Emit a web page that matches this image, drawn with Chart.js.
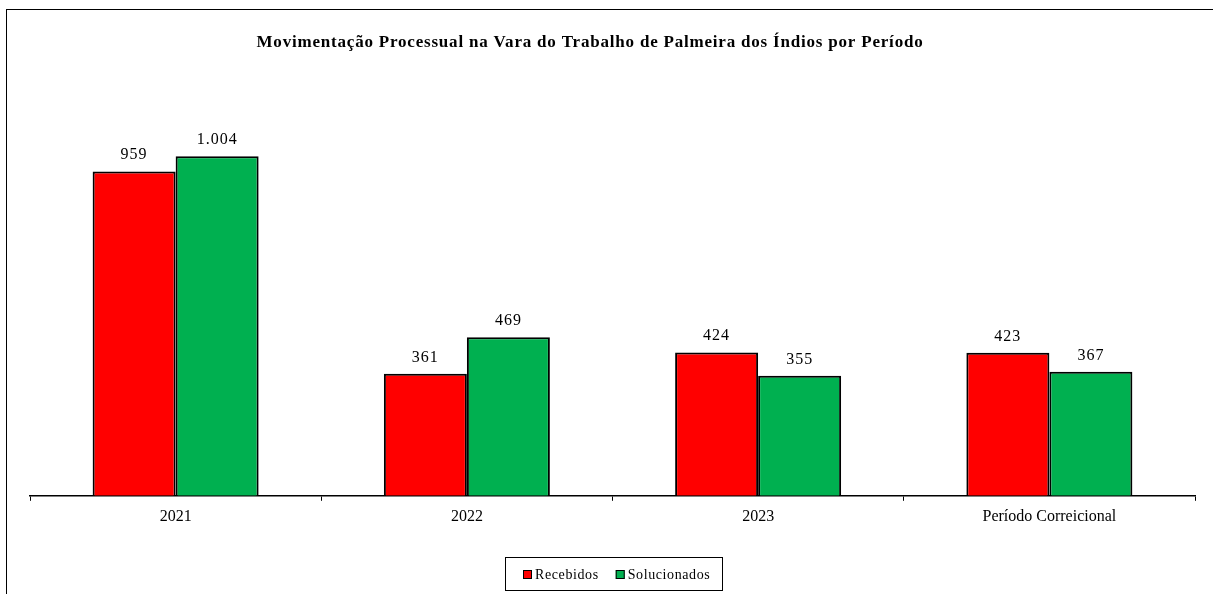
<!DOCTYPE html>
<html>
<head>
<meta charset="utf-8">
<script src="https://cdn.jsdelivr.net/npm/chart.js@4/dist/chart.umd.min.js"></script>
<style>
    html, body { margin: 0; padding: 0; background: #fff; overflow: hidden; }
    #wrap { position: relative; width: 1213px; height: 594px; }
    #frame {
        position: absolute; left: 6px; top: 9px; width: 1400px; height: 800px;
        border-left: 1px solid #000; border-top: 1px solid #000;
    }
    canvas { position: absolute; left: 0; top: 0; }
</style>
</head>
<body>
<div id="wrap">
    <div id="frame"></div>
    <canvas id="chart" width="1213" height="594"></canvas>
</div>
<script>
// 데이터
const chartTitle = 'Movimentação Processual na Vara do Trabalho de Palmeira dos Índios por Período';
const categories = ['2021', '2022', '2023', 'Período Correicional'];
const recebidos = [959, 361, 424, 423];
const solucionados = [1004, 469, 355, 367];
const seriesNames = ['Recebidos', 'Solucionados'];
const seriesColors = ['#ff0000', '#00b050'];

const serif = '"Liberation Serif", "Times New Roman", serif';

function formatNumber(v) {
    return v.toLocaleString('pt-BR');
}

// 막대 위 값 + 제목 + 범례
const decorPlugin = {
    id: 'decor',
    afterDatasetsDraw(chart) {
        const ctx = chart.ctx;
        ctx.save();
        ctx.fillStyle = '#000';
        ctx.font = '16px ' + serif;
        ctx.letterSpacing = '1px';
        ctx.textAlign = 'center';
        ctx.textBaseline = 'alphabetic';
        chart.data.datasets.forEach((ds, i) => {
            chart.getDatasetMeta(i).data.forEach((bar, j) => {
                ctx.fillText(formatNumber(ds.data[j]), bar.x, bar.y - 12);
            });
        });
        ctx.restore();
    },
    afterDraw(chart) {
        const ctx = chart.ctx;
        ctx.save();
        // 제목
        ctx.fillStyle = '#000';
        ctx.font = 'bold 17px ' + serif;
        ctx.letterSpacing = '0.8px';
        ctx.textAlign = 'center';
        ctx.textBaseline = 'middle';
        ctx.fillText(chartTitle, 590, 43);

        // 범례
        ctx.lineWidth = 1;
        ctx.strokeStyle = '#000';
        ctx.strokeRect(505.5, 557.5, 217, 33);
        ctx.font = '14px ' + serif;
        ctx.letterSpacing = '0.6px';
        ctx.textAlign = 'left';
        let x = 523;
        const y = 574;
        chart.data.datasets.forEach(ds => {
            ctx.fillStyle = ds.backgroundColor;
            ctx.fillRect(x, y - 4, 9, 9);
            ctx.strokeRect(x + 0.5, y - 3.5, 8, 8);
            ctx.fillStyle = '#000';
            ctx.fillText(ds.label, x + 12, y + 1);
            x += 12 + ctx.measureText(ds.label).width + 17;
        });
        ctx.restore();
    }
};

const ctx = document.getElementById('chart').getContext('2d');
new Chart(ctx, {
    type: 'bar',
    data: {
        labels: categories,
        datasets: [
            {
                label: seriesNames[0],
                data: recebidos,
                backgroundColor: seriesColors[0],
                borderColor: '#000',
                borderWidth: 2
            },
            {
                label: seriesNames[1],
                data: solucionados,
                backgroundColor: seriesColors[1],
                borderColor: '#000',
                borderWidth: 2
            }
        ]
    },
    options: {
        responsive: false,
        animation: false,
        layout: {
            padding: { left: 30, right: 18, top: 90, bottom: 62 }
        },
        plugins: {
            legend: { display: false },
            title: { display: false },
            tooltip: { enabled: false }
        },
        datasets: {
            bar: { barPercentage: 1, categoryPercentage: 0.57 }
        },
        scales: {
            x: {
                offset: true,
                grid: {
                    offset: true,
                    drawOnChartArea: false,
                    drawTicks: true,
                    tickLength: 5,
                    color: '#000'
                },
                border: { display: true, color: '#000', width: 1.5 },
                ticks: {
                    color: '#000',
                    font: { family: serif, size: 16 },
                    padding: 6,
                    maxRotation: 0
                }
            },
            y: {
                display: false,
                min: 0,
                max: 1200
            }
        }
    },
    plugins: [decorPlugin]
});
</script>
</body>
</html>
